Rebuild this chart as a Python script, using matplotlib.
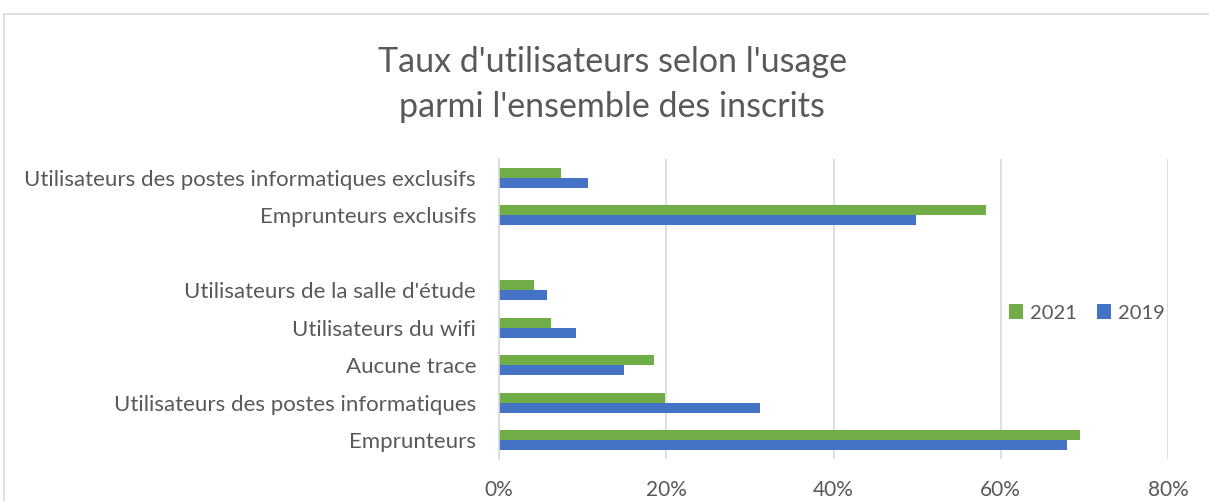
import matplotlib.pyplot as plt
import numpy as np
from matplotlib.ticker import PercentFormatter
from matplotlib.patches import Rectangle

# categories from bottom to top, "" is the empty slot between the two groups
categories = ["Emprunteurs",
              "Utilisateurs des postes informatiques",
              "Aucune trace",
              "Utilisateurs du wifi",
              "Utilisateurs de la salle d'étude",
              "",
              "Emprunteurs exclusifs",
              "Utilisateurs des postes informatiques exclusifs"]
values_2021 = [69.5, 19.8, 18.5, 6.2, 4.2, np.nan, 58.2, 7.4]
values_2019 = [67.9, 31.2, 14.9, 9.2, 5.7, np.nan, 49.9, 10.6]
x_ticks = [0, 20, 40, 60, 80]

GREEN = "#70AD47"
BLUE = "#4472C4"
TEXT = "#595959"
GRID = "#D9D9D9"

plt.rcParams['font.family'] = ['Lato', 'DejaVu Sans']

fig = plt.figure(figsize=(12.09, 5.01), dpi=100)
ax = fig.add_axes([499 / 1209, 1 - 459 / 501, (1168 - 499) / 1209, (459 - 159) / 501])

# chart border (cropped excel chart)
fig.patches.append(Rectangle((4 / 1209, -0.1), 1.2, 1 - 14 / 501 + 0.1, transform=fig.transFigure,
                             fill=False, edgecolor="#D9D9D9", linewidth=1.2))

y = np.arange(len(categories))
h = 0.27
ax.barh(y + h / 2, values_2021, height=h, color=GREEN, label="2021")
ax.barh(y - h / 2, values_2019, height=h, color=BLUE, label="2019")

ax.set_xlim(0, 80)
ax.set_ylim(-0.5, len(categories) - 0.5)
ax.set_xticks(x_ticks)
ax.xaxis.set_major_formatter(PercentFormatter(decimals=0))
ax.set_yticks(y)
ax.set_yticklabels(categories)
ax.tick_params(axis="y", length=0, pad=16.5, labelsize=16, labelcolor=TEXT)
ax.tick_params(axis="x", length=0, pad=15, labelsize=15, labelcolor=TEXT)
ax.grid(axis="x", color=GRID, linewidth=1.2)
ax.set_axisbelow(True)
for side in ["top", "right", "bottom"]:
    ax.spines[side].set_visible(False)
ax.spines["left"].set_color(GRID)
ax.spines["left"].set_linewidth(1.2)

ax.legend(loc="center", bbox_to_anchor=(1087 / 1209, 1 - 313 / 501), bbox_transform=fig.transFigure,
          ncol=2, frameon=False, fontsize=14.5, labelcolor=TEXT, handlelength=0.7, handleheight=0.7,
          handletextpad=0.35, columnspacing=1.0)

fig.text(612 / 1209, 1 - 62 / 501, "Taux d'utilisateurs selon l'usage", ha="center", va="center",
         fontsize=24.5, color=TEXT)
fig.text(612 / 1209, 1 - 107 / 501, "parmi l'ensemble des inscrits", ha="center", va="center",
         fontsize=24.5, color=TEXT)

fig.savefig("out.png", dpi=100, facecolor="white")
